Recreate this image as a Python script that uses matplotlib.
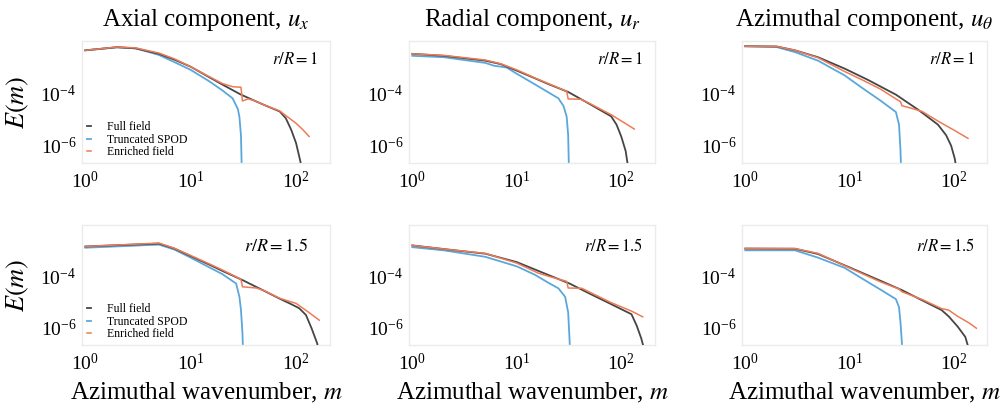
import numpy as np
import matplotlib
matplotlib.use("Agg")
import matplotlib.pyplot as plt

plt.rcParams['font.family'] = ['Liberation Serif', 'DejaVu Serif']
plt.rcParams['mathtext.fontset'] = 'stix'

# ---------------- data ----------------
# Axial component, r/R = 1
ax1_full_m = [1, 2, 3, 5, 7, 10, 15, 20, 30, 50, 70, 80, 90, 100, 110, 116]
ax1_full_E = [4.2e-3, 5.5e-3, 5.0e-3, 3.1e-3, 1.86e-3, 1.0e-3, 4.0e-4, 2.1e-4, 8.7e-5, 3.5e-5, 2.0e-5, 1.1e-5, 4.0e-6, 1.26e-6, 2.5e-7, 6e-8]
ax1_trunc_m = [1, 2, 3, 5, 7, 10, 15, 20, 25, 28, 29, 30, 31]
ax1_trunc_E = [4.2e-3, 5.5e-3, 5.0e-3, 2.8e-3, 1.5e-3, 7.6e-4, 2.8e-4, 1.26e-4, 6.3e-5, 2.5e-5, 1.26e-5, 2.5e-6, 1e-8]
ax1_enr_m = [1, 2, 3, 5, 7, 10, 15, 20, 25, 30, 31, 35, 40, 50, 70, 80, 100, 115, 133]
ax1_enr_E = [4.2e-3, 5.6e-3, 5.2e-3, 3.3e-3, 2.0e-3, 1.0e-3, 4.2e-4, 2.3e-4, 1.74e-4, 1.66e-4, 5.0e-5, 6.0e-5, 5.2e-5, 3.5e-5, 2.1e-5, 1.4e-5, 7.1e-6, 4.2e-6, 2.24e-6]

# Radial component, r/R = 1
rd1_full_m = [1, 2, 5, 7, 10, 15, 20, 31, 50, 80, 90, 100, 110, 118]
rd1_full_E = [3.1e-3, 2.6e-3, 1.7e-3, 1.26e-3, 7.1e-4, 3.6e-4, 2.2e-4, 1.1e-4, 3.8e-5, 1.3e-5, 6.3e-6, 2.2e-6, 6.3e-7, 1e-7]
rd1_trunc_m = [1, 2, 5, 6, 8, 10, 15, 20, 25, 28, 30, 31, 32]
rd1_trunc_E = [2.6e-3, 2.3e-3, 1.4e-3, 1.1e-3, 9.3e-4, 5.4e-4, 2.1e-4, 1.07e-4, 6.3e-5, 3.2e-5, 1.26e-5, 2.5e-6, 1e-8]
rd1_enr_m = [1, 2, 5, 7, 10, 15, 20, 30, 31, 41, 50, 80, 100, 133]
rd1_enr_E = [3.1e-3, 2.7e-3, 1.8e-3, 1.3e-3, 7.6e-4, 3.7e-4, 2.3e-4, 1.17e-4, 6.0e-5, 5.8e-5, 4.0e-5, 1.5e-5, 8.7e-6, 4.3e-6]

# Azimuthal component, r/R = 1
az1_full_m = [1, 2, 3, 5, 9, 15, 28, 46, 71, 85, 95, 103, 110]
az1_full_E = [6.0e-3, 5.9e-3, 4.2e-3, 2.3e-3, 8.5e-4, 3.2e-4, 8.7e-5, 2.3e-5, 6.3e-6, 2.5e-6, 1.0e-6, 3.2e-7, 6e-8]
az1_trunc_m = [1, 2, 3, 5, 9, 13, 20, 28, 30, 31, 32]
az1_trunc_E = [6.0e-3, 5.6e-3, 3.6e-3, 1.7e-3, 4.7e-4, 1.66e-4, 5.1e-5, 1.9e-5, 6.3e-6, 6.3e-7, 1e-8]
az1_enr_m = [1, 2, 3, 5, 9, 13, 20, 28, 31, 32, 40, 50, 70, 100, 138]
az1_enr_E = [6.0e-3, 5.9e-3, 4.2e-3, 2.2e-3, 6.6e-4, 3.3e-4, 1.4e-4, 6.0e-5, 4.7e-5, 3.3e-5, 2.6e-5, 2.0e-5, 8.9e-6, 4.0e-6, 1.9e-6]

# Axial component, r/R = 1.5
ax2_full_m = [1, 5, 7, 10, 15, 20, 31, 50, 70, 90, 107, 124, 140, 159, 166]
ax2_full_E = [1.41e-3, 1.82e-3, 1.17e-3, 6.0e-4, 2.8e-4, 1.6e-4, 7.1e-5, 2.7e-5, 1.35e-5, 8.3e-6, 5.8e-6, 3.2e-6, 1.0e-6, 2.5e-7, 6e-8]
ax2_trunc_m = [1, 5, 7, 10, 15, 20, 27, 29, 30, 31, 32]
ax2_trunc_E = [1.26e-3, 1.66e-3, 1.07e-3, 5.2e-4, 2.2e-4, 1.2e-4, 5.2e-5, 1.6e-5, 5.0e-6, 6.3e-7, 1e-8]
ax2_enr_m = [1, 5, 7, 10, 15, 20, 30, 31, 42, 50, 70, 100, 130, 166]
ax2_enr_E = [1.41e-3, 1.9e-3, 1.2e-3, 6.3e-4, 3.0e-4, 1.74e-4, 7.6e-5, 3.9e-5, 3.5e-5, 2.75e-5, 1.4e-5, 8.9e-6, 4.2e-6, 2.0e-6]

# Radial component, r/R = 1.5
rd2_full_m = [1, 2, 3, 5, 10, 20, 32, 50, 80, 125, 140, 155, 170]
rd2_full_E = [1.55e-3, 1.12e-3, 9.3e-4, 7.4e-4, 3.5e-4, 1.12e-4, 5.2e-5, 2.1e-5, 8.3e-6, 3.4e-6, 1.26e-6, 4.0e-7, 1e-7]
rd2_trunc_m = [1, 2, 5, 10, 15, 20, 25, 29, 31, 32, 33]
rd2_trunc_E = [1.32e-3, 1.0e-3, 5.6e-4, 2.4e-4, 1.12e-4, 5.6e-5, 3.4e-5, 1.6e-5, 4.0e-6, 3.2e-7, 1e-8]
rd2_enr_m = [1, 2, 5, 10, 16, 20, 30, 31, 42, 50, 80, 125, 160]
rd2_enr_E = [1.55e-3, 1.12e-3, 7.6e-4, 3.2e-4, 1.32e-4, 1.0e-4, 6.3e-5, 3.5e-5, 3.4e-5, 2.4e-5, 9.5e-6, 4.5e-6, 2.7e-6]

# Azimuthal component, r/R = 1.5
az2_full_m = [1, 3, 5, 10, 20, 32, 50, 77, 90, 110, 130, 145]
az2_full_E = [1.17e-3, 1.15e-3, 7.2e-4, 2.2e-4, 6.6e-5, 2.9e-5, 1.17e-5, 4.9e-6, 2.8e-6, 1.12e-6, 4.5e-7, 1e-7]
az2_trunc_m = [1, 3, 5, 9, 15, 20, 28, 30, 31, 32, 33]
az2_trunc_E = [1.0e-3, 1.0e-3, 5.2e-4, 2.1e-4, 6.0e-5, 3.0e-5, 1.3e-5, 6.3e-6, 1.6e-6, 2.5e-7, 1e-8]
az2_enr_m = [1, 3, 5, 10, 20, 30, 32, 50, 77, 90, 110, 140, 166]
az2_enr_E = [1.17e-3, 1.17e-3, 7.6e-4, 2.1e-4, 6.0e-5, 3.2e-5, 2.5e-5, 1.26e-5, 5.6e-6, 4.9e-6, 2.8e-6, 1.6e-6, 9.8e-7]

titles = [r"Axial component, $u_x$", r"Radial component, $u_r$", r"Azimuthal component, $u_\theta$"]
radius_labels = [r"$r/R=1$", r"$r/R=1.5$"]
series_labels = ["Full field", "Truncated SPOD", "Enriched field"]
xticks = [1, 10, 100]
yticks = [1e-6, 1e-4]

panels = [
    [(ax1_full_m, ax1_full_E, ax1_trunc_m, ax1_trunc_E, ax1_enr_m, ax1_enr_E),
     (rd1_full_m, rd1_full_E, rd1_trunc_m, rd1_trunc_E, rd1_enr_m, rd1_enr_E),
     (az1_full_m, az1_full_E, az1_trunc_m, az1_trunc_E, az1_enr_m, az1_enr_E)],
    [(ax2_full_m, ax2_full_E, ax2_trunc_m, ax2_trunc_E, ax2_enr_m, ax2_enr_E),
     (rd2_full_m, rd2_full_E, rd2_trunc_m, rd2_trunc_E, rd2_enr_m, rd2_enr_E),
     (az2_full_m, az2_full_E, az2_trunc_m, az2_trunc_E, az2_enr_m, az2_enr_E)],
]

colors = ['#454545', '#5aa7dc', '#ee7b55']

W, H = 1004, 409
fig = plt.figure(figsize=(W / 100, H / 100), dpi=100)

def rect(x0, y0, x1, y1):
    return [x0 / W, 1 - y1 / H, (x1 - x0) / W, (y1 - y0) / H]

cols_px = [(82, 330), (409, 655), (742, 987)]
rows_px = [(41, 163), (225, 345)]

for r in range(2):
    for c in range(3):
        x0, x1 = cols_px[c]
        y0, y1 = rows_px[r]
        ax = fig.add_axes(rect(x0, y0, x1, y1))
        fm, fE, tm, tE, em, eE = panels[r][c]
        ax.plot(fm, fE, color=colors[0], lw=1.3, label=series_labels[0], zorder=3)
        ax.plot(tm, tE, color=colors[1], lw=1.3, label=series_labels[1], zorder=2)
        ax.plot(em, eE, color=colors[2], lw=1.1, label=series_labels[2], zorder=4)
        ax.set_xscale('log')
        ax.set_yscale('log')
        ax.set_xlim(0.93, 210)
        ax.set_ylim(2.2e-7, 9.5e-3)
        ax.set_xticks(xticks)
        ax.set_yticks(yticks)
        ax.minorticks_off()
        ax.tick_params(length=0, labelsize=14, pad=4)
        ax.tick_params(axis='x', pad=6)
        for s in ax.spines.values():
            s.set_color('#ebebeb')
            s.set_linewidth(1.0)
        fs = 13 if (r == 1 and c == 0) else 12
        ax.text(0.95 if not (r == 1 and c == 0) else 0.91, 0.845 if r == 0 else 0.82,
                radius_labels[r], transform=ax.transAxes, ha='right', va='center', fontsize=fs)
        if c == 0:
            ax.legend(loc='lower left', fontsize=8.5, handlelength=0.4, handletextpad=1.3,
                      labelspacing=0.05, borderpad=0.25, borderaxespad=0.15,
                      frameon=True, facecolor='white', edgecolor='none', framealpha=0.9)
            fig.text(18 / W, 1 - ((y0 + y1) / 2) / H, r"$E(m)$", rotation=90,
                     ha='center', va='center', fontsize=19)
        if r == 0:
            fig.text(((x0 + x1) / 2) / W, 1 - 20 / H, titles[c], ha='center', va='center', fontsize=18)
        else:
            fig.text(((x0 + x1) / 2) / W, 1 - 393 / H, "Azimuthal wavenumber, $m$",
                     ha='center', va='center', fontsize=18)

fig.savefig('out.png', dpi=100, facecolor='white')
